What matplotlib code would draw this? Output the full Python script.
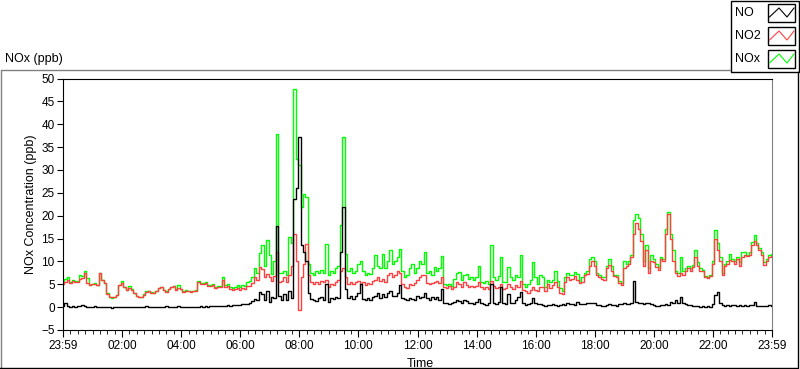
import numpy as np
import matplotlib.pyplot as plt
from matplotlib.lines import Line2D
from matplotlib.patches import Rectangle
from matplotlib.ticker import MultipleLocator

plt.rcParams['font.family'] = ['Liberation Sans', 'DejaVu Sans']

# 5-minute readings, 23:59 -> 23:59 (one row per hour)
no = [
    0.3, 0.8, 0.2, 0.1, 0.2, 0.1, 0.3, 0.2, 0.4, 0.3, 0.1, 0.0,
    0.1, 0.2, 0.0, 0.1, 0.1, 0.0, 0.1, 0.0, -0.1, 0.0, 0.1, 0.0,
    0.0, 0.1, 0.0, 0.0, 0.1, 0.0, 0.1, 0.0, 0.0, 0.1, 0.2, 0.0,
    0.1, 0.0, 0.1, 0.0, 0.0, 0.1, 0.2, 0.0, 0.1, 0.0, 0.1, 0.2,
    0.0, 0.1, 0.1, 0.0, 0.1, 0.0, 0.1, 0.1, 0.2, 0.1, 0.2, 0.1,
    0.2, 0.2, 0.3, 0.2, 0.3, 0.3, 0.3, 0.4, 0.3, 0.4, 0.4, 0.5,
    0.5, 0.6, 0.6, 0.7, 1.0, 1.3, 1.7, 1.5, 3.3, 2.9, 1.5, 3.6,
    1.1, 2.2, 2.0, 17.7, 2.5, 1.5, 2.8, 1.5, 3.6, 2.0, 23.7, 26.0,
    37.2, 13.5, 12.0, 10.0, 3.0, 1.8, 1.5, 1.3, 2.0, 2.2, 1.5, 5.0,
    1.2, 2.0, 1.8, 2.2, 2.0, 12.0, 22.0, 4.0, 2.0, 2.5, 1.8, 2.5,
    3.0, 5.0, 1.8, 1.5, 2.0, 1.6, 2.2, 2.5, 3.0, 2.0, 2.8, 2.2,
    3.0, 3.6, 2.5, 2.5, 3.0, 4.8, 2.0, 1.8, 1.5, 2.0, 1.8, 1.6,
    2.5, 2.0, 2.2, 3.0, 2.0, 1.6, 2.2, 1.8, 2.2, 1.5, 4.0, 1.0,
    0.8, 0.7, 0.9, 1.2, 1.6, 1.4, 1.0, 1.5, 1.4, 0.9, 1.0, 0.7,
    1.2, 1.8, 0.8, 0.6, 0.5, 0.8, 5.1, 0.9, 0.7, 1.2, 4.4, 0.8,
    0.7, 2.9, 0.9, 1.0, 1.5, 2.2, 3.3, 0.8, 0.5, 0.6, 0.8, 2.0,
    0.9, 0.6, 0.7, 0.4, 0.3, 0.5, 0.4, 0.6, 0.5, 0.3, 0.4, 0.6,
    0.5, 0.8, 0.6, 0.6, 0.5, 1.2, 0.6, 0.7, 0.6, 0.8, 0.9, 1.0,
    0.8, 0.5, 0.4, 0.3, 0.3, 0.5, 0.6, 0.5, 0.4, 0.3, 0.6, 0.7,
    1.0, 0.6, 0.7, 0.8, 5.8, 1.2, 0.9, 0.8, 0.7, 0.9, 1.0, 0.6,
    0.5, 0.3, 0.2, 0.4, 0.4, 0.6, 0.5, 1.2, 1.0, 1.5, 1.0, 2.2,
    0.9, 0.6, 0.4, 0.5, 0.3, 0.2, 0.2, 0.1, 0.2, 0.1, 0.2, 0.1,
    0.7, 2.6, 3.3, 0.8, 0.4, 0.3, 0.4, 0.3, 0.5, 0.4, 0.3, 0.4,
    0.3, 0.4, 0.3, 0.5, 0.4, 1.1, 0.3, 0.2, 0.3, 0.2, 0.3, 0.4,
    0.3,
]
no2 = [
    5.1, 5.4, 5.9, 5.3, 5.8, 5.5, 5.4, 6.1, 6.4, 7.5, 5.3, 4.8,
    5.0, 5.1, 4.9, 7.4, 5.9, 5.2, 2.9, 2.3, 2.2, 2.3, 2.6, 4.8,
    5.2, 4.3, 3.7, 4.1, 3.8, 3.1, 2.4, 2.2, 2.3, 2.7, 3.3, 3.6,
    3.2, 3.1, 3.5, 4.2, 4.5, 3.7, 3.4, 4.0, 4.3, 4.6, 3.8, 4.1,
    3.9, 3.4, 3.6, 3.5, 3.4, 3.5, 3.6, 5.4, 5.0, 5.1, 5.3, 4.7,
    4.6, 4.8, 4.1, 4.4, 4.3, 6.0, 4.5, 4.6, 4.0, 3.8, 3.9, 4.2,
    3.7, 4.1, 3.9, 4.7, 4.6, 5.2, 6.6, 6.0, 8.8, 8.4, 6.6, 7.3,
    6.6, 5.8, 6.9, 12.0, 5.5, 5.8, 6.5, 5.5, 7.0, 9.0, 16.0, 10.0,
    -0.7, 6.6, 9.5, 13.9, 7.0, 5.5, 5.0, 5.5, 5.0, 5.8, 5.5, 6.0,
    4.5, 5.0, 4.8, 5.5, 6.0, 8.0, 8.5, 6.5, 5.0, 5.5, 5.0, 5.5,
    5.8, 5.0, 5.5, 4.8, 5.2, 5.0, 5.8, 6.0, 6.5, 5.8, 6.2, 5.5,
    7.0, 7.5, 6.5, 7.0, 8.0, 7.5, 5.0, 4.5, 4.2, 5.0, 4.8, 5.2,
    6.0, 6.5, 7.0, 7.0, 5.2, 5.0, 5.2, 5.5, 5.8, 5.3, 6.5, 4.5,
    4.2, 4.6, 4.0, 4.4, 5.5, 5.0, 4.5, 5.5, 4.8, 4.4, 4.6, 4.4,
    4.7, 5.5, 4.5, 4.0, 4.3, 4.0, 5.8, 4.6, 4.2, 4.5, 5.0, 4.0,
    4.2, 5.0, 4.4, 4.0, 4.8, 4.5, 5.8, 3.8, 3.5, 3.2, 3.8, 4.4,
    3.8, 3.5, 4.5, 4.5, 3.6, 5.0, 4.2, 4.8, 5.5, 4.5, 3.2, 2.8,
    5.5, 6.5, 6.0, 6.2, 6.8, 6.0, 5.2, 5.6, 7.0, 7.2, 9.0, 10.0,
    9.0, 7.0, 6.5, 6.2, 6.0, 8.5, 9.2, 8.0, 6.8, 6.5, 5.2, 4.8,
    8.5, 9.0, 9.5, 11.0, 16.0, 18.5, 17.0, 14.5, 9.0, 12.5, 7.5, 10.0,
    9.8, 8.8, 8.2, 10.5, 10.0, 16.0, 20.4, 15.0, 10.0, 7.5, 6.8, 7.5,
    7.0, 8.0, 8.5, 8.0, 8.8, 11.0, 9.0, 8.0, 7.8, 6.5, 6.3, 6.8,
    9.5, 15.0, 12.5, 10.0, 7.0, 9.0, 9.5, 10.2, 10.0, 9.5, 10.5, 9.0,
    11.0, 11.5, 11.2, 11.5, 13.5, 14.5, 13.5, 12.5, 11.5, 9.2, 10.0, 11.0,
    11.2,
]
nox = [
    5.4, 6.2, 6.6, 5.4, 6.0, 5.7, 5.7, 7.0, 6.8, 7.8, 6.3, 4.9,
    5.1, 5.3, 4.9, 7.5, 6.0, 5.2, 3.0, 2.3, 2.1, 2.3, 2.7, 4.8,
    5.7, 4.3, 3.7, 4.6, 3.9, 3.1, 2.5, 2.2, 2.3, 2.8, 3.5, 3.6,
    3.3, 3.1, 3.6, 4.2, 4.5, 3.8, 3.6, 4.0, 4.4, 4.6, 3.9, 4.8,
    4.0, 3.5, 3.8, 3.6, 3.5, 3.6, 3.7, 5.7, 5.2, 5.2, 5.6, 4.8,
    4.9, 5.0, 4.5, 4.6, 4.7, 6.5, 4.9, 5.0, 4.4, 4.2, 4.4, 4.8,
    4.3, 4.8, 4.6, 5.6, 5.8, 6.6, 8.5, 7.5, 11.8, 13.5, 9.1, 14.7,
    11.3, 7.3, 10.0, 37.8, 7.4, 7.5, 8.0, 7.0, 15.3, 14.0, 47.6, 32.5,
    31.0, 22.0, 24.8, 24.0, 9.5, 7.5, 7.0, 8.0, 7.5, 8.2, 7.5, 13.9,
    7.0, 8.0, 7.5, 8.5, 9.0, 17.9, 37.2, 11.7, 8.0, 8.5, 7.5, 8.0,
    9.5, 10.0, 8.0, 7.0, 7.5, 7.2, 8.5, 11.3, 9.0, 8.5, 11.7, 8.5,
    10.0, 12.4, 9.5, 10.0, 11.0, 12.8, 8.0, 6.5, 7.0, 8.5, 9.5, 7.5,
    8.5, 10.0, 9.5, 12.0, 7.5, 8.0, 7.0, 8.8, 8.0, 8.5, 11.1, 5.0,
    4.8, 5.0, 4.6, 6.2, 7.5, 7.7, 6.0, 7.0, 7.3, 6.2, 6.5, 6.0,
    6.5, 9.0, 5.5, 5.2, 5.8, 5.0, 13.5, 6.5, 6.0, 6.8, 11.0, 5.5,
    5.5, 8.8, 6.5, 6.0, 7.0, 6.5, 11.3, 5.0, 4.5, 5.0, 6.0, 9.9,
    6.5, 5.0, 7.0, 6.6, 4.5, 6.0, 5.5, 6.0, 8.0, 5.8, 4.2, 3.5,
    6.5, 7.5, 7.0, 7.0, 7.7, 7.3, 5.8, 6.5, 7.5, 8.0, 10.5, 11.0,
    10.0, 7.5, 7.0, 6.5, 6.5, 9.0, 10.5, 9.0, 7.0, 7.0, 5.8, 5.2,
    10.0, 9.5, 10.0, 11.5, 19.0, 20.4, 19.5, 16.0, 10.0, 13.5, 8.5, 11.5,
    10.5, 9.5, 8.8, 11.0, 10.5, 17.0, 20.8, 16.0, 12.4, 8.0, 7.5, 11.0,
    7.8, 8.5, 9.0, 8.6, 9.2, 12.4, 9.8, 8.5, 8.2, 6.8, 6.6, 7.0,
    10.0, 16.8, 14.0, 11.0, 7.5, 9.5, 10.0, 11.7, 10.5, 10.0, 11.0, 9.8,
    12.0, 12.0, 11.5, 12.0, 14.2, 15.7, 14.0, 13.0, 12.0, 9.8, 10.5, 11.5,
    11.7,
]

series_names = ['NO', 'NO2', 'NOx']
series_colors = ['black', '#ff4040', '#00ff00']
time_labels = ['23:59', '02:00', '04:00', '06:00', '08:00', '10:00', '12:00',
               '14:00', '16:00', '18:00', '20:00', '22:00', '23:59']
y_ticks = [-5, 0, 5, 10, 15, 20, 25, 30, 35, 40, 45, 50]

hours = np.arange(len(no)) * 5 / 60.0

fig = plt.figure(figsize=(8, 3.69), dpi=100)
W, H = 800, 369
ax = fig.add_axes([63 / W, 1 - 330 / H, (772 - 63) / W, (330 - 78.5) / H])

# NOx drawn first so NO2 and NO sit on top of it
ax.plot(hours, nox, color=series_colors[2], lw=1.0, drawstyle='steps-mid')
ax.plot(hours, no2, color=series_colors[1], lw=1.0, drawstyle='steps-mid')
ax.plot(hours, no, color=series_colors[0], lw=1.0, drawstyle='steps-mid')

ax.set_xlim(0, 24)
ax.set_ylim(-5, 50)
ax.set_xticks(np.arange(0, 25, 2))
ax.set_xticklabels(time_labels)
ax.xaxis.set_minor_locator(MultipleLocator(0.25))
ax.set_yticks(y_ticks)
ax.tick_params(axis='both', labelsize=8.5, direction='out', color='black')
ax.tick_params(axis='x', which='major', length=5, pad=2)
ax.tick_params(axis='x', which='minor', length=3)
ax.tick_params(axis='y', length=4, pad=2)
ax.set_xlabel('Time', fontsize=9)
ax.set_ylabel('NOx Concentration (ppb)', fontsize=9, labelpad=3)
ax.xaxis.set_label_coords((420 - 63) / 709, -0.11)

for side in ['left', 'bottom', 'top']:
    ax.spines[side].set_color('black')
ax.spines['right'].set_color('#808080')

# pixel overlay for the panel frame, title and legend
ov = fig.add_axes([0, 0, 1, 1], zorder=5)
ov.set_xlim(0, W)
ov.set_ylim(H, 0)
ov.patch.set_alpha(0)
ov.axis('off')

ov.add_line(Line2D([0.5, 0.5, 730], [368, 69.5, 69.5], color='#808080', lw=1))
ov.add_line(Line2D([0, 798, 798], [367.5, 367.5, 72], color='black', lw=1))
ov.text(5, 59, 'NOx (ppb)', fontsize=9, ha='left', va='center')

ov.add_patch(Rectangle((730.5, 0.5), 68.5, 71.5, facecolor='white',
                       edgecolor='black', lw=1))
zig_x = np.array([1.5, 11, 19, 26])
zig_y = np.array([13, 4, 13, 4])
for i, name in enumerate(series_names):
    top = 4 + i * 23
    ov.text(735, top + 9, name, fontsize=9, ha='left', va='center')
    ov.add_patch(Rectangle((768, top), 27, 17.5, facecolor='white',
                           edgecolor='black', lw=1))
    ov.add_line(Line2D(768 + zig_x, top + zig_y, color=series_colors[i], lw=0.8))

fig.savefig('out.png', dpi=100)
